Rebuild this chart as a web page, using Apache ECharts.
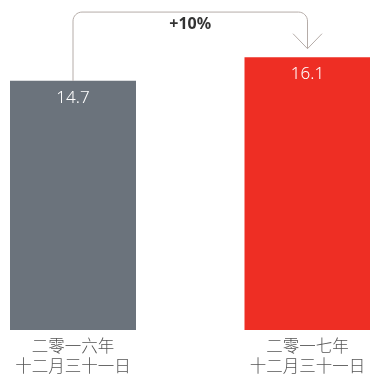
<!DOCTYPE html>
<html>
<head>
<meta charset="utf-8">
<script src="https://cdn.jsdelivr.net/npm/echarts@6/dist/echarts.min.js"></script>
<style>
  html, body { margin: 0; padding: 0; background: #fff; }
  #chart { width: 370px; height: 376px; }
</style>
</head>
<body>
<div id="chart"></div>
<script>
const categories = ["二零一六年\n十二月三十一日", "二零一七年\n十二月三十一日"];
const values = [14.7, 16.1];
const barColors = ["#6b737c", "#ee2e24"];
const changeLabel = "+10%";

const chart = echarts.init(document.getElementById("chart"));

const option = {
  animation: false,
  grid: { left: 73, right: 62.5, top: 8, bottom: 45 },
  xAxis: {
    type: "category",
    data: categories,
    boundaryGap: false,
    axisLine: { show: false },
    axisTick: { show: false },
    axisLabel: {
      color: "#555",
      fontSize: 16.5,
      lineHeight: 20,
      margin: 6,
      fontFamily: "Noto Sans CJK SC",
      fontWeight: 300,
    },
    splitLine: { show: false },
  },
  yAxis: {
    type: "value",
    min: 0,
    max: 19,
    show: false,
    splitLine: { show: false },
  },
  series: [
    {
      type: "bar",
      barWidth: 126,
      clip: false,
      data: values.map((v, i) => ({ value: v, itemStyle: { color: barColors[i] } })),
      label: {
        show: true,
        position: "insideTop",
        distance: 9,
        color: "#fff",
        fontSize: 17,
        fontFamily: "Noto Sans",
        fontWeight: 300,
        formatter: (p) => p.value.toFixed(1),
      },
    },
  ],
};
chart.setOption(option);

// bracket arrow between the two bars
const p1 = chart.convertToPixel({ gridIndex: 0 }, [0, values[0]]);
const p2 = chart.convertToPixel({ gridIndex: 0 }, [1, values[1] + 0.5]);
const yTop = chart.convertToPixel({ gridIndex: 0 }, [0, 18.76])[1];
const r = 9;
const x1 = p1[0], x2 = p2[0];
const lineStyle = { stroke: "#b5aca8", lineWidth: 1, fill: null };

// rounded corners as short point runs
const pts = [[x1, p1[1]]];
for (let k = 0; k <= 8; k++) {
  const a = Math.PI - (k / 8) * (Math.PI / 2);
  pts.push([x1 + r + r * Math.cos(a), yTop + r - r * Math.sin(a)]);
}
for (let k = 0; k <= 8; k++) {
  const a = Math.PI / 2 - (k / 8) * (Math.PI / 2);
  pts.push([x2 - r + r * Math.cos(a), yTop + r - r * Math.sin(a)]);
}
pts.push([x2, p2[1]]);

chart.setOption({
  graphic: [
    {
      type: "polyline",
      shape: { points: pts },
      style: lineStyle,
      z: 10,
    },
    {
      type: "polyline",
      shape: { points: [[x2 - 14.5, p2[1] - 15], [x2, p2[1]], [x2 + 14.5, p2[1] - 15]] },
      style: lineStyle,
      z: 10,
    },
    {
      type: "text",
      x: (x1 + x2) / 2,
      y: yTop + 12,
      style: {
        text: changeLabel,
        fill: "#333",
        font: "bold 16px 'Noto Sans'",
        align: "center",
        verticalAlign: "middle",
      },
      z: 10,
    },
  ],
});
</script>
</body>
</html>
